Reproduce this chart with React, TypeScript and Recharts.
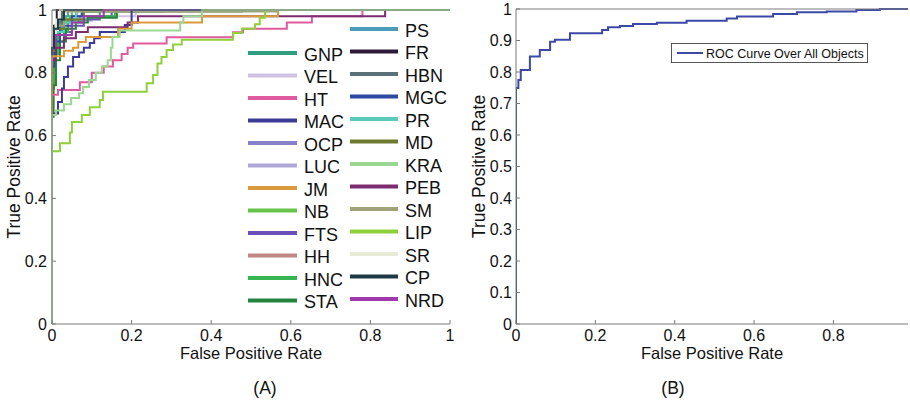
import React from 'react';
import { LineChart, Line, XAxis, YAxis, Legend } from 'recharts';

// ROC staircases, [fpr, tpr] pairs; drawn with stepAfter (go right, then up)
const GNP: [number, number][] = [[0, 0], [0, 0.8], [0.005, 0.88], [0.012, 0.93], [0.025, 0.96], [0.045, 0.98], [0.12, 1], [1, 1]];
const VEL: [number, number][] = [[0, 0], [0, 0.85], [0.008, 0.9], [0.02, 0.94], [0.05, 0.965], [0.1, 0.98], [0.21, 1], [1, 1]];
const HT: [number, number][] = [[0, 0], [0, 0.73], [0.015, 0.745], [0.07, 0.77], [0.1, 0.8], [0.13, 0.82], [0.153, 0.84], [0.175, 0.86], [0.19, 0.88], [0.204, 0.893], [0.288, 0.913], [0.455, 0.929], [0.48, 0.94], [0.59, 0.96], [0.653, 0.98], [0.78, 1], [1, 1]];
const MAC: [number, number][] = [[0, 0], [0, 0.67], [0.015, 0.707], [0.025, 0.75], [0.03, 0.787], [0.04, 0.82], [0.053, 0.85], [0.068, 0.865], [0.08, 0.88], [0.095, 0.895], [0.106, 0.91], [0.12, 0.93], [0.183, 0.952], [0.2, 1], [1, 1]];
const OCP: [number, number][] = [[0, 0], [0, 0.82], [0.008, 0.9], [0.02, 0.94], [0.04, 0.965], [0.07, 0.98], [0.075, 1], [1, 1]];
const LUC: [number, number][] = [[0, 0], [0, 0.86], [0.01, 0.93], [0.03, 0.97], [0.063, 1], [1, 1]];
const JM: [number, number][] = [[0, 0], [0, 0.853], [0.03, 0.87], [0.053, 0.88], [0.066, 0.898], [0.085, 0.914], [0.166, 0.94], [0.2, 0.96], [0.377, 0.98], [0.568, 1], [1, 1]];
const NB: [number, number][] = [[0, 0], [0, 0.7], [0.003, 0.85], [0.008, 0.92], [0.02, 0.96], [0.035, 0.98], [0.05, 1], [1, 1]];
const FTS: [number, number][] = [[0, 0], [0, 0.84], [0.01, 0.9], [0.03, 0.93], [0.05, 0.95], [0.08, 0.97], [0.12, 0.98], [0.15, 1], [1, 1]];
const HH: [number, number][] = [[0, 0], [0, 0.88], [0.006, 0.94], [0.02, 0.97], [0.025, 1], [1, 1]];
const HNC: [number, number][] = [[0, 0], [0, 0.75], [0.005, 0.86], [0.015, 0.93], [0.04, 0.97], [0.09, 0.98], [0.158, 1], [1, 1]];
const STA: [number, number][] = [[0, 0], [0, 0.66], [0.004, 0.76], [0.01, 0.84], [0.02, 0.9], [0.035, 0.94], [0.06, 0.96], [0.09, 0.975], [0.163, 1], [1, 1]];
const PS: [number, number][] = [[0, 0], [0, 0.92], [0.01, 0.96], [0.02, 0.98], [0.04, 1], [1, 1]];
const FR: [number, number][] = [[0, 0], [0, 0.9], [0.005, 0.95], [0.012, 1], [1, 1]];
const HBN: [number, number][] = [[0, 0], [0, 0.9], [0.01, 0.96], [0.025, 1], [1, 1]];
const MGC: [number, number][] = [[0, 0], [0, 0.82], [0.006, 0.9], [0.02, 0.95], [0.05, 0.98], [0.075, 1], [1, 1]];
const PR: [number, number][] = [[0, 0], [0, 0.87], [0.01, 0.93], [0.03, 0.96], [0.06, 0.995], [0.28, 1], [1, 1]];
const MD: [number, number][] = [[0, 0], [0, 0.87], [0.01, 0.94], [0.03, 0.97], [0.08, 0.995], [0.477, 1], [1, 1]];
const KRA: [number, number][] = [[0, 0], [0, 0.666], [0.01, 0.68], [0.03, 0.7], [0.048, 0.72], [0.068, 0.735], [0.078, 0.755], [0.093, 0.777], [0.11, 0.8], [0.125, 0.82], [0.14, 0.84], [0.148, 0.88], [0.152, 0.914], [0.17, 0.935], [0.322, 0.96], [0.33, 0.98], [0.377, 1], [1, 1]];
const PEB: [number, number][] = [[0, 0], [0, 0.84], [0.01, 0.88], [0.03, 0.91], [0.06, 0.93], [0.09, 0.945], [0.19, 0.96], [0.216, 0.98], [0.837, 1], [1, 1]];
const SM: [number, number][] = [[0, 0], [0, 0.9], [0.008, 0.95], [0.03, 0.995], [0.565, 1], [1, 1]];
const LIP: [number, number][] = [[0, 0], [0, 0.55], [0.02, 0.576], [0.045, 0.61], [0.05, 0.643], [0.075, 0.666], [0.095, 0.69], [0.12, 0.713], [0.128, 0.74], [0.238, 0.767], [0.254, 0.793], [0.265, 0.83], [0.275, 0.85], [0.288, 0.873], [0.304, 0.89], [0.326, 0.905], [0.455, 0.927], [0.477, 0.94], [0.51, 0.955], [0.522, 0.975], [0.535, 1], [1, 1]];
const SR: [number, number][] = [[0, 0], [0, 0.92], [0.01, 0.97], [0.02, 1], [1, 1]];
const CP: [number, number][] = [[0, 0], [0, 0.88], [0.005, 0.94], [0.015, 0.97], [0.03, 1], [1, 1]];
const NRD: [number, number][] = [[0, 0], [0, 0.85], [0.01, 0.92], [0.05, 0.96], [0.08, 0.98], [0.13, 1], [1, 1]];

const CURVES: Record<string, [number, number][]> = {
  GNP, VEL, HT, MAC, OCP, LUC, JM, NB, FTS, HH, HNC, STA,
  PS, FR, HBN, MGC, PR, MD, KRA, PEB, SM, LIP, SR, CP, NRD,
};

const LEGEND_LEFT = ['GNP', 'VEL', 'HT', 'MAC', 'OCP', 'LUC', 'JM', 'NB', 'FTS', 'HH', 'HNC', 'STA'];
const LEGEND_RIGHT = ['PS', 'FR', 'HBN', 'MGC', 'PR', 'MD', 'KRA', 'PEB', 'SM', 'LIP', 'SR', 'CP', 'NRD'];

// order the curves are painted in (later = on top)
const DRAW_ORDER = [
  'GNP', 'VEL', 'OCP', 'LUC', 'NB', 'FTS', 'HH', 'HNC', 'STA', 'PS', 'FR', 'HBN', 'MGC',
  'PR', 'MD', 'SM', 'SR', 'CP', 'NRD', 'HT', 'MAC', 'PEB', 'JM', 'LIP', 'KRA',
];

// overall ROC (panel B)
const ALL_FPR = [0, 0, 0.006, 0.012, 0.035, 0.06, 0.086, 0.098, 0.136, 0.217, 0.232, 0.262, 0.295, 0.355, 0.43, 0.531, 0.557, 0.648, 0.708, 0.783, 0.858, 0.917, 0.988];
const ALL_TPR = [0, 0.749, 0.775, 0.806, 0.849, 0.87, 0.896, 0.902, 0.923, 0.933, 0.942, 0.946, 0.952, 0.956, 0.963, 0.97, 0.976, 0.984, 0.99, 0.992, 0.997, 1, 1];

const TICKS_A = [0, 0.2, 0.4, 0.6, 0.8, 1];
const TICKS_B_X = [0, 0.2, 0.4, 0.6, 0.8];
const TICKS_B_Y = [0, 0.1, 0.2, 0.3, 0.4, 0.5, 0.6, 0.7, 0.8, 0.9, 1];

const COLORS: Record<string, string> = {
  GNP: '#2e9e7e', VEL: '#cfc3e3', HT: '#e05aa0', MAC: '#3c3a96', OCP: '#8880c8',
  LUC: '#b0a8d8', JM: '#d99a3c', NB: '#66c44a', FTS: '#6a50b8', HH: '#c08884',
  HNC: '#38b450', STA: '#24843e', PS: '#4b9cbc', FR: '#2c1a36', HBN: '#5c7078',
  MGC: '#2e4aa0', PR: '#5ccab8', MD: '#6e7a30', KRA: '#9ad892', PEB: '#7c2c70',
  SM: '#a0a47c', LIP: '#8ecf3c', SR: '#e8ecd6', CP: '#1e3a44', NRD: '#a03aac',
};
const ALL_COLOR = '#3c48a8';
const AXIS = '#7a7a7a';
const INK = '#111';
const FONT = '"Liberation Sans", Arial, Helvetica, sans-serif';

const toPoints = (pairs: [number, number][]) => pairs.map(([x, y]) => ({ x, y }));
const fmt = (v: number) => String(+v.toFixed(1));

const YTitle = ({ viewBox, cx, text }: any) => {
  const cy = viewBox.y + viewBox.height / 2;
  return (
    <text x={cx} y={cy} transform={`rotate(-90 ${cx} ${cy})`} textAnchor="middle"
      dominantBaseline="central" fontSize={17.5} fill={INK}>
      {text}
    </text>
  );
};

const LegendA = () => (
  <svg width={216} height={316}>
    {LEGEND_LEFT.map((name, i) => {
      const y = 39 + i * 22.5;
      return (
        <g key={name}>
          <line x1={4} x2={53} y1={y} y2={y} stroke={COLORS[name]} strokeWidth={4} />
          <text x={60} y={y + 1.5} dominantBaseline="central" fontSize={18} fill={INK}>{name}</text>
        </g>
      );
    })}
    {LEGEND_RIGHT.map((name, i) => {
      const y = 15 + i * 22.5;
      return (
        <g key={name}>
          <line x1={106} x2={154} y1={y} y2={y} stroke={COLORS[name]} strokeWidth={4} />
          <text x={161} y={y + 1.5} dominantBaseline="central" fontSize={18} fill={INK}>{name}</text>
        </g>
      );
    })}
  </svg>
);

const LegendB = () => (
  <svg width={198} height={21}>
    <rect x={0.5} y={0.5} width={196} height={19} fill="#fff" stroke="#555" />
    <line x1={6} x2={32} y1={10} y2={10} stroke={ALL_COLOR} strokeWidth={2} />
    <text x={35} y={10.5} dominantBaseline="central" fontSize={12.5} fill={INK}>ROC Curve Over All Objects</text>
  </svg>
);

const PanelA = () => (
  <LineChart width={460} height={402} margin={{ top: 10, right: 10, left: 0, bottom: 42 }}>
    <XAxis type="number" dataKey="x" domain={[0, 1]} ticks={TICKS_A} tickFormatter={fmt}
      height={36} stroke={AXIS} tickSize={-4} tickMargin={10}
      tick={{ fill: INK, fontSize: 16 }}
      label={{ value: 'False Positive Rate', position: 'insideBottom', offset: 1, fill: INK, fontSize: 16.5 }} />
    <XAxis xAxisId="top" orientation="top" mirror type="number" dataKey="x" domain={[0, 1]}
      ticks={TICKS_A} tick={false} height={1} tickSize={4} stroke={AXIS} />
    <YAxis type="number" dataKey="y" domain={[0, 1]} ticks={TICKS_A} tickFormatter={fmt}
      width={52} stroke={AXIS} tickSize={-4} tickMargin={9}
      tick={{ fill: INK, fontSize: 16 }}
      label={<YTitle cx={14} text="True Positive Rate" />} />
    {DRAW_ORDER.map((name) => (
      <Line key={name} data={toPoints(CURVES[name])} dataKey="y" name={name} type="stepAfter"
        stroke={COLORS[name]} strokeWidth={2} dot={false} activeDot={false}
        isAnimationActive={false} />
    ))}
    <Legend layout="horizontal" verticalAlign="middle" align="center" content={<LegendA />}
      wrapperStyle={{ left: 244, top: 14, width: 216, height: 316 }} />
  </LineChart>
);

const ALL_DATA = ALL_FPR.map((x, i) => ({ x, y: ALL_TPR[i] }));

const PanelB = () => (
  <LineChart width={450} height={402} margin={{ top: 9, right: 2, left: 0, bottom: 42 }}>
    <XAxis type="number" dataKey="x" domain={[0, 0.988]} ticks={TICKS_B_X} tickFormatter={fmt}
      height={36} stroke={AXIS} tickSize={-4} tickMargin={10} allowDataOverflow
      tick={{ fill: INK, fontSize: 16 }}
      label={{ value: 'False Positive Rate', position: 'insideBottom', offset: 1, fill: INK, fontSize: 16.5 }} />
    <XAxis xAxisId="top" orientation="top" mirror type="number" dataKey="x" domain={[0, 0.988]}
      ticks={TICKS_B_X} tick={false} height={1} tickSize={4} stroke={AXIS} allowDataOverflow />
    <YAxis type="number" dataKey="y" domain={[0, 1]} ticks={TICKS_B_Y} tickFormatter={fmt}
      width={56} stroke={AXIS} tickSize={-4} tickMargin={8}
      tick={{ fill: INK, fontSize: 16 }}
      label={<YTitle cx={19} text="True Positive Rate" />} />
    <Line data={ALL_DATA} dataKey="y" name="ROC Curve Over All Objects" type="stepAfter"
      stroke={ALL_COLOR} strokeWidth={2} dot={false} activeDot={false} isAnimationActive={false} />
    <Legend layout="horizontal" verticalAlign="middle" align="center" content={<LegendB />}
      wrapperStyle={{ left: 211, top: 43, width: 198, height: 21 }} />
  </LineChart>
);

export default function App() {
  return (
    <div style={{ position: 'relative', width: 910, height: 402, background: '#fff', fontFamily: FONT, color: INK }}>
      <style>{'body{margin:0}'}</style>
      <div style={{ position: 'absolute', left: 0, top: 0 }}>
        <PanelA />
      </div>
      <div style={{ position: 'absolute', left: 460, top: 0 }}>
        <PanelB />
      </div>
      <div style={{ position: 'absolute', left: 245, top: 378, width: 40, textAlign: 'center', fontSize: 17.5, lineHeight: '20px' }}>(A)</div>
      <div style={{ position: 'absolute', left: 653, top: 378, width: 40, textAlign: 'center', fontSize: 17.5, lineHeight: '20px' }}>(B)</div>
    </div>
  );
}
